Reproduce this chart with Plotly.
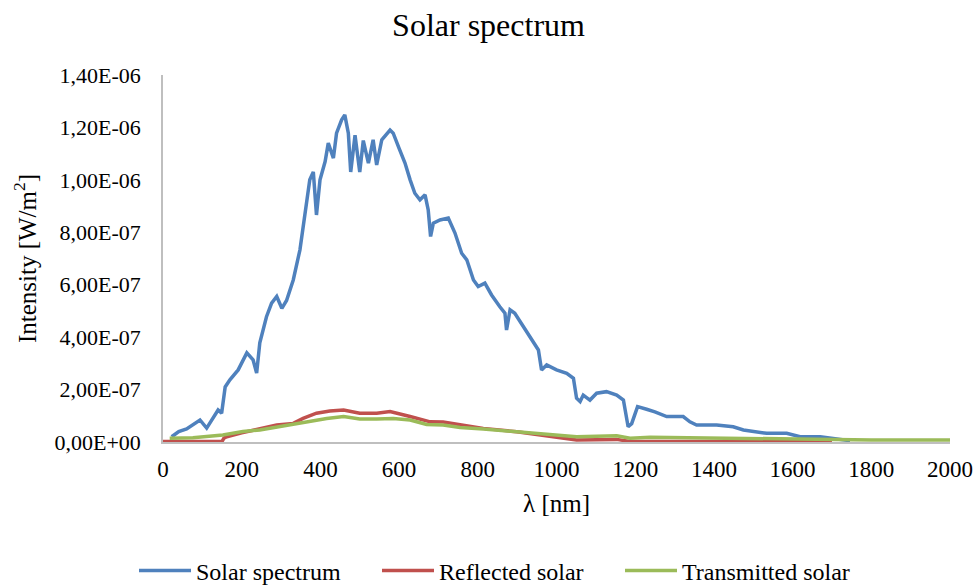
import plotly.graph_objects as go

SCALE = 1e-6  # values below are in units of 1e-6 W/m2

solar_wl = [22, 40, 60, 76, 94, 111, 130, 140, 149, 158, 170, 191, 213, 229, 238, 246, 263, 276, 289, 302,
            314, 331, 348, 361, 373, 382, 390, 399, 412, 420, 433, 441, 454, 462, 471, 477, 488, 500, 509, 522,
            534, 543, 556, 577, 585, 600, 615, 628, 640, 653, 666, 674, 680, 687, 704, 725, 742, 759, 772, 789,
            801, 818, 835, 856, 869, 873, 882, 894, 916, 941, 954, 962, 975, 1000, 1026, 1043, 1051, 1060, 1068,
            1085, 1102, 1127, 1153, 1170, 1178, 1182, 1191, 1206, 1229, 1250, 1280, 1322, 1339, 1356, 1407, 1449,
            1475, 1534, 1585, 1619, 1670, 1712, 1746]
solar_val = [0.02, 0.04, 0.05, 0.065, 0.084, 0.053, 0.10, 0.122, 0.11, 0.21, 0.237, 0.275, 0.34, 0.313, 0.263,
             0.378, 0.478, 0.53, 0.555, 0.51, 0.54, 0.618, 0.733, 0.874, 1.0, 1.03, 0.866, 1.0, 1.07, 1.14, 1.083,
             1.178, 1.229, 1.248, 1.178, 1.03, 1.17, 1.03, 1.15, 1.064, 1.153, 1.057, 1.153, 1.19, 1.178, 1.12,
             1.064, 1.0, 0.949, 0.924, 0.943, 0.885, 0.784, 0.835, 0.847, 0.854, 0.797, 0.72, 0.695, 0.618, 0.593,
             0.606, 0.561, 0.516, 0.491, 0.427, 0.504, 0.491, 0.44, 0.377, 0.351, 0.275, 0.294, 0.275, 0.262,
             0.243, 0.167, 0.154, 0.179, 0.16, 0.186, 0.192, 0.179, 0.16, 0.1, 0.058, 0.07, 0.135, 0.125, 0.115,
             0.097, 0.097, 0.077, 0.065, 0.065, 0.058, 0.046, 0.033, 0.033, 0.02, 0.02, 0.01, 0.005]

refl_wl = [0, 50, 100, 150, 155, 162, 200, 246, 289, 331, 356, 390, 424, 459, 500, 543, 577, 628, 679, 712, 755,
           814, 899, 984, 1051, 1153, 1187, 1238, 1407, 1600, 1700]
refl_val = [0.002, 0.002, 0.002, 0.002, 0.015, 0.02, 0.035, 0.052, 0.065, 0.071, 0.09, 0.11, 0.118, 0.122, 0.11,
            0.11, 0.116, 0.097, 0.077, 0.076, 0.065, 0.052, 0.039, 0.022, 0.008, 0.01, 0.002, 0.002, 0.003, 0.002,
            0.002]

trans_wl = [17, 76, 152, 203, 246, 289, 331, 373, 416, 459, 500, 543, 585, 628, 670, 712, 755, 814, 899, 984,
            1051, 1153, 1187, 1238, 1407, 1600, 1800, 2000]
trans_val = [0.014, 0.016, 0.027, 0.04, 0.046, 0.058, 0.067, 0.08, 0.09, 0.097, 0.088, 0.088, 0.09, 0.084, 0.067,
             0.065, 0.055, 0.05, 0.039, 0.027, 0.02, 0.024, 0.014, 0.018, 0.014, 0.01, 0.008, 0.008]

series_names = ["Solar spectrum", "Reflected solar", "Transmitted solar"]
series_colors = ["#4F81BD", "#C0504D", "#9BBB59"]

y_tickvals = [0, 0.2e-6, 0.4e-6, 0.6e-6, 0.8e-6, 1.0e-6, 1.2e-6, 1.4e-6]
y_ticktext = ["0,00E+00", "2,00E-07", "4,00E-07", "6,00E-07", "8,00E-07", "1,00E-06", "1,20E-06", "1,40E-06"]
x_tickvals = [0, 200, 400, 600, 800, 1000, 1200, 1400, 1600, 1800, 2000]

FONT = "Liberation Serif"

fig = go.Figure()
for wl, val, name, color in [(solar_wl, solar_val, series_names[0], series_colors[0]),
                             (refl_wl, refl_val, series_names[1], series_colors[1]),
                             (trans_wl, trans_val, series_names[2], series_colors[2])]:
    fig.add_trace(go.Scatter(x=wl, y=[v * SCALE for v in val], mode="lines", name=name,
                             line=dict(color=color, width=3.5)))

fig.update_layout(
    width=977, height=587,
    paper_bgcolor="white", plot_bgcolor="white",
    margin=dict(l=163, r=27, t=75, b=145, autoexpand=False),
    font=dict(family=FONT, color="#000000", size=22),
    title=dict(text="Solar spectrum", x=0.5, xref="container", xanchor="center",
               y=1 - 25 / 587, yref="container", yanchor="middle",
               font=dict(size=32, family=FONT, color="#000000")),
    showlegend=True,
    legend=dict(orientation="h", x=134 / 977, xref="container", xanchor="left",
                y=1 - 571 / 587, yref="container", yanchor="middle",
                font=dict(size=24, family=FONT, color="#000000"),
                itemwidth=52, entrywidth=176, entrywidthmode="pixels",
                bgcolor="rgba(0,0,0,0)"),
)
fig.update_xaxes(range=[0, 2000], tickvals=x_tickvals, showgrid=False, zeroline=False,
                 showline=True, linecolor="#BFBFBF", linewidth=1.5, ticks="",
                 ticklabelstandoff=6, tickfont=dict(size=23, family=FONT, color="#000000"),
                 title=dict(text="λ [nm]", font=dict(size=25, family=FONT, color="#000000"), standoff=13))
fig.update_yaxes(range=[0, 1.4e-6], tickvals=y_tickvals, ticktext=y_ticktext, showgrid=False, zeroline=False,
                 showline=True, linecolor="#BFBFBF", linewidth=1.5, ticks="",
                 ticklabelstandoff=16, tickfont=dict(size=22, family=FONT, color="#000000"),
                 title=dict(text="Intensity [W/m<sup>2</sup>]", font=dict(size=25, family=FONT, color="#000000"),
                            standoff=11))

fig.write_html("out.html")
